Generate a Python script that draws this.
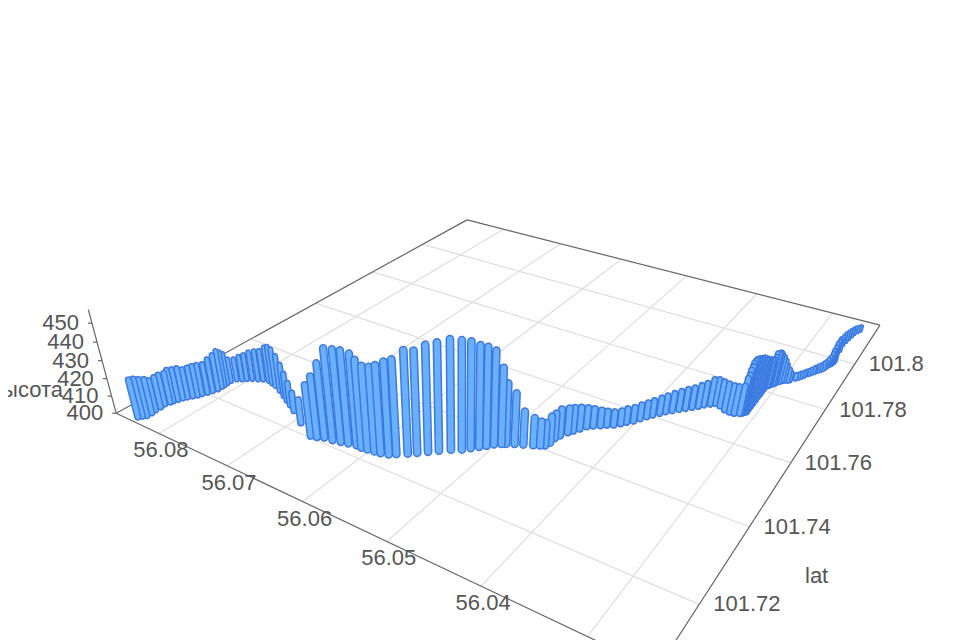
import numpy as np, pandas as pd, altair as alt

lon_values=[56.0843,56.0840,56.0837,56.0837,56.0838,56.0838,56.0839,56.0837,56.0836,56.0834,56.0832,56.0829,56.0826,56.0823,56.0821,56.0818,56.0816,56.0814,56.0814,56.0814,56.0815,56.0815,56.0812,56.0807,56.0803,56.0798,56.0792,
56.0787,56.0780,56.0773,56.0766,56.0755,56.0744,56.0735,56.0725,56.0714,56.0692,56.0667,56.0660,56.0653,56.0643,56.0634,56.0626,56.0617,56.0610,56.0603,56.0595,56.0588,56.0580,56.0574,56.0565,56.0558,56.0550,56.0542,56.0533,56.0524,56.0518,56.0512,56.0507,56.0502,56.0496,56.0492,56.0485,56.0477,56.0468,56.0462,56.0458,56.0456,56.0456,56.0454,56.0450,56.0447,56.0443,56.0439,56.0434,56.0428,
56.0423,56.0417,56.0412,56.0408,56.0403,56.0399,56.0395,56.0391,56.0386,56.0382,56.0377,56.0372,56.0367,56.0362,56.0357,56.0353,56.0348,56.0344,56.0338,56.0331,56.0325,56.0320,56.0315,56.0314,56.0313,56.0313,56.0312,56.0312,56.0311,56.0310,56.0310,56.0310,56.0310,56.0310,56.0310,56.0310,56.0310,56.0310,56.0309,56.0308,56.0307,56.0307,56.0305,56.0304,56.0303,56.0301,56.0299,56.0297,56.0294,56.0292,56.0288,56.0286,56.0284,56.0282,56.0281,56.0279,56.0277,56.0275,56.0274,56.0272,56.0270,56.0268,56.0267,56.0266,56.0265,56.0264,56.0264,56.0263,56.0263,56.0262,56.0262,56.0264,56.0265,56.0264,56.0263,56.0262,56.0261,56.0259,56.0257]
lat_values=[101.7074,101.7080,101.7086,101.7097,101.7107,101.7119,101.7130,101.7140,101.7146,101.7154,101.7163,101.7170,101.7178,101.7185,101.7193,101.7202,101.7212,101.7222,101.7232,101.7239,101.7248,101.7257,101.7267,101.7273,101.7279,101.7285,101.7290,
101.7295,101.7298,101.7295,101.7292,101.7284,101.7275,101.7267,101.7258,101.7248,101.7226,101.7205,101.7208,101.7214,101.7216,101.7220,101.7224,101.7228,101.7227,101.7229,101.7231,101.7233,101.7238,101.7246,101.7258,101.7269,101.7282,101.7295,101.7309,101.7320,101.7332,101.7343,101.7353,101.7364,101.7372,101.7377,101.7385,101.7392,101.7400,101.7406,101.7411,101.7423,101.7439,101.7452,101.7468,101.7478,101.7490,101.7503,101.7512,101.7520,
101.7528,101.7535,101.7546,101.7556,101.7567,101.7580,101.7593,101.7604,101.7616,101.7627,101.7637,101.7648,101.7658,101.7668,101.7678,101.7688,101.7697,101.7705,101.7702,101.7694,101.7692,101.7693,101.7698,101.7701,101.7703,101.7704,101.7706,101.7707,101.7709,101.7712,101.7723,101.7735,101.7747,101.7760,101.7773,101.7785,101.7796,101.7808,101.7819,101.7823,101.7826,101.7828,101.7832,101.7836,101.7841,101.7847,101.7853,101.7857,101.7861,101.7865,101.7877,101.7883,101.7889,101.7896,101.7902,101.7908,101.7913,101.7920,101.7925,101.7931,101.7937,101.7943,101.7950,101.7959,101.7966,101.7970,101.7973,101.7976,101.7980,101.7984,101.7992,101.8039,101.8067,101.8084,101.8098,101.8114,101.8128,101.8140,101.8150]
height_values=[421.3,421.4,420.9,419.4,417.2,417.4,417.2,417.1,418.3,417.9,417.7,416.6,417.0,417.4,417.3,417.1,418.9,420.3,421.4,419.7,417.5,413.2,412.4,413.9,414.7,416.3,417.2,
417.5,420.2,421.9,421.8,420.6,418.2,415.5,413.0,410.4,413.2,428.5,433.8,441.0,450.0,450.2,450.4,449.6,447.5,445.3,445.7,447.4,449.7,450.7,455.1,454.5,456.8,457.6,458.7,458.1,456.9,454.6,453.2,450.7,441.8,433.6,428.3,418.7,415.4,413.7,412.7,414.9,414.3,415.0,413.9,413.3,412.4,410.9,409.9,408.9,
408.0,407.6,407.4,407.8,407.8,408.1,408.1,408.5,409.1,409.5,410.4,410.8,411.4,411.7,412.5,413.0,414.8,414.3,414.4,415.3,415.4,415.6,416.0,420.1,421.9,424.6,426.4,428.1,429.4,429.9,428.8,427.5,426.1,424.7,422.7,420.7,419.3,417.6,416.3,415.9,417.2,419.0,419.0,418.9,417.4,415.3,412.6,409.8,407.0,404.8,402.5,402.3,402.4,402.2,402.3,402.3,402.7,402.8,402.9,403.2,403.3,403.9,404.1,404.6,405.4,407.1,408.8,410.5,412.2,413.4,413.8,409.2,407.3,406.5,405.9,405.1,404.4,403.7,403.1]

lon_ticks=[56.03,56.04,56.05,56.06,56.07,56.08]
lat_ticks=[101.72,101.74,101.76,101.78,101.8]
h_ticks=[400,410,420,430,440,450]
LONMIN,LONMAX,LATMIN,LATMAX,HTOP=56.0241,56.0868,101.706,101.82,457

# camera: ground-plane anchors and the vertical vanishing point
VX,VY=462,1700
def uv(lon,lat): return (lon-56.03)*100,(lat-101.72)*50
anch=[(LONMAX,LATMIN,116,413,6),(LONMIN,LATMAX,880,325,6),(LONMAX,LATMAX,467,220,6),(LONMIN,LATMIN,656,670,3),
(56.08,LATMIN,160,433,1),(56.07,LATMIN,230,465,1),(56.06,LATMIN,306,503,1),(56.05,LATMIN,390,544,1),(56.04,LATMIN,485,588,1),(56.03,LATMIN,588,638,1),
(LONMIN,101.72,700,602,1),(LONMIN,101.74,749,526,1),(LONMIN,101.76,790,463,1),(LONMIN,101.78,824,411,1),(LONMIN,101.8,854,365,1)]
A=[];b=[]
for lo,la,x,y,wt in anch:
    u,v=uv(lo,la)
    A.append([wt*e for e in [u,v,1,0,0,0,-u*x,-v*x]]);b.append(wt*x)
    A.append([wt*e for e in [0,0,0,u,v,1,-u*y,-v*y]]);b.append(wt*y)
H=np.append(np.linalg.lstsq(np.array(A,float),np.array(b,float),rcond=None)[0],1).reshape(3,3)
wL=(H[2]@np.array([*uv(LONMAX,LATMIN),1]))
f0=(413-323)/(VY-413)
G=-wL*f0/(1+f0)/50
def proj(lon,lat,h=400):
    u,v=uv(lon,lat)
    p=H@np.array([u,v,1.0]); k=G*(h-400)
    return (p[0]+k*VX)/(p[2]+k),(p[1]+k*VY)/(p[2]+k)

rows=[]
order=np.argsort([proj(a,c)[1] for a,c in zip(lon_values,lat_values)])
for i in order:
    x,y=proj(lon_values[i],lat_values[i]);x2,y2=proj(lon_values[i],lat_values[i],height_values[i])
    wd=float(np.clip(4+(y-340)/110*4.8,4,8.8))
    rows.append(dict(x=x,y=y,x2=x2,y2=y2,c="#3b78e0",s=wd))
    rows.append(dict(x=x,y=y,x2=x2,y2=y2,c="#69b0ff",s=max(wd-3,0.01)))
bars=pd.DataFrame(rows)

grid=[]
for t in lon_ticks:
    a=proj(t,LATMIN);q=proj(t,LATMAX);grid.append(dict(x=a[0],y=a[1],x2=q[0],y2=q[1]))
for t in lat_ticks:
    a=proj(LONMIN,t);q=proj(LONMAX,t);grid.append(dict(x=a[0],y=a[1],x2=q[0],y2=q[1]))
grid=pd.DataFrame(grid)
ax=[]
for (a,c) in [((LONMAX,LATMIN),(LONMIN,LATMIN)),((LONMIN,LATMIN),(LONMIN,LATMAX)),((LONMIN,LATMAX),(LONMAX,LATMAX)),((LONMAX,LATMAX),(LONMAX,LATMIN))]:
    p=proj(*a);q=proj(*c);ax.append(dict(x=p[0],y=p[1],x2=q[0],y2=q[1]))
p=proj(LONMAX,LATMIN);q=proj(LONMAX,LATMIN,HTOP);ax.append(dict(x=p[0],y=p[1],x2=q[0],y2=q[1]))
for t in h_ticks:
    p=proj(LONMAX,LATMIN,t);ax.append(dict(x=p[0],y=p[1],x2=p[0]-4,y2=p[1]))
ax=pd.DataFrame(ax)
labels=[]
for t in lon_ticks[1:]:
    p=proj(t,LATMIN);labels.append(dict(x=p[0]+2,y=p[1]+17,t=str(t),a="center"))
for t in lat_ticks:
    p=proj(LONMIN,t);labels.append(dict(x=p[0]+14,y=p[1],t=str(t),a="left"))
for t in h_ticks:
    p=proj(LONMAX,LATMIN,t);labels.append(dict(x=p[0]-13,y=p[1],t=str(t),a="right"))
labels.append(dict(x=805,y=576,t="lat",a="left"))
labels.append(dict(x=63,y=390,t="высота",a="right"))
labels=pd.DataFrame(labels)

X=alt.X("x:Q",scale=alt.Scale(domain=[8,952]),axis=None)
Y=alt.Y("y:Q",scale=alt.Scale(domain=[640,8]),axis=None)
base=dict(x=X,y=Y,x2="x2:Q",y2="y2:Q")
layers=[alt.Chart(grid).mark_rule(color="#dedede",strokeWidth=1.2).encode(**base),
alt.Chart(ax).mark_rule(color="#666666",strokeWidth=1.2).encode(**base),
alt.Chart(bars).mark_rule(strokeCap="round").encode(color=alt.Color("c:N",scale=None),strokeWidth=alt.StrokeWidth("s:Q",scale=None),**base)]
for a,d in labels.groupby("a"):
    layers.append(alt.Chart(d).mark_text(align=a,baseline="middle",font="Liberation Sans",fontSize=22,color="#555555").encode(x=X,y=Y,text="t:N"))
chart=alt.layer(*layers).properties(width=944,height=632,padding=0,autosize=alt.AutoSizeParams(type="none")).configure_view(stroke=None)
chart.save("out.html",embed_options={"renderer":"svg","actions":False})
